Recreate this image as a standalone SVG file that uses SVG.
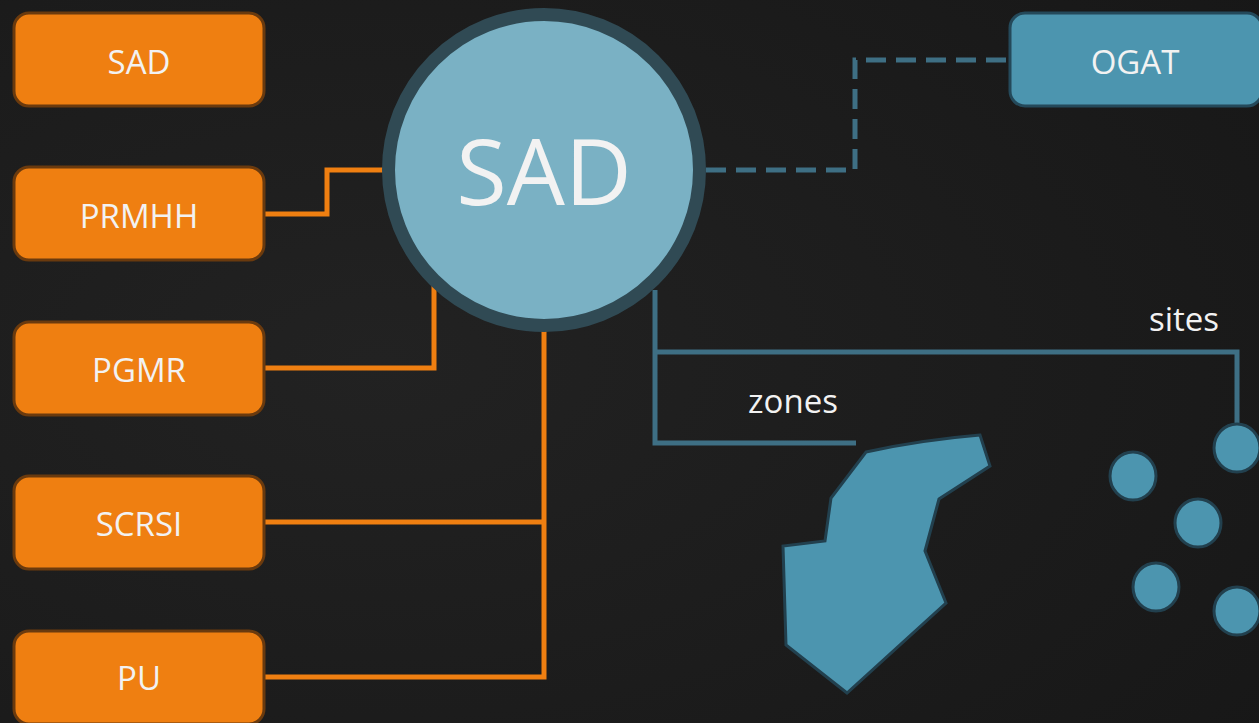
<svg xmlns="http://www.w3.org/2000/svg" width="1259" height="723" viewBox="0 0 1259 723">
  <style>
    .box-o { fill: #EF7F11; stroke: #6A3A0E; stroke-width: 3; }
    .box-b { fill: #4C95AF; stroke: #24495A; stroke-width: 3; }
    .lbl { font-family: "Open Sans", "Noto Sans", sans-serif; fill: #F2F2F2; text-anchor: middle; font-size: 33px; }
    .wire-o { fill: none; stroke: #EF7F11; stroke-width: 5; }
    .wire-b { fill: none; stroke: #3E6F84; stroke-width: 5; }
    .wire-d { fill: none; stroke: #3E6F84; stroke-width: 5; stroke-dasharray: 20 10; }
    .site { fill: #4C95AF; stroke: #22404E; stroke-width: 3; }
  </style>
  <defs>
    <radialGradient id="bg" cx="0.3" cy="0.5" r="0.9">
      <stop offset="0" stop-color="#222222"/>
      <stop offset="1" stop-color="#171717"/>
    </radialGradient>
  </defs>
  <rect x="0" y="0" width="1259" height="723" fill="url(#bg)"/>

  <g id="connectors">
    <path class="wire-o" d="M264,214 H327 V170 H390"/>
    <path class="wire-o" d="M264,368 H434 V285"/>
    <path class="wire-o" d="M264,522 H544"/>
    <path class="wire-o" d="M264,677 H544 V325"/>
    <path class="wire-d" d="M706,170 H855 V60 H1010"/>
    <path class="wire-b" d="M655,290 V443 H856"/>
    <path class="wire-b" d="M655,352 H1237 V425"/>
  </g>

  <g id="node-sad-box">
    <rect class="box-o" x="14" y="13" width="250" height="93" rx="15"/>
    <text class="lbl" x="139" y="74">SAD</text>
  </g>
  <g id="node-prmhh">
    <rect class="box-o" x="14" y="167" width="250" height="93" rx="15"/>
    <text class="lbl" x="139" y="228">PRMHH</text>
  </g>
  <g id="node-pgmr">
    <rect class="box-o" x="14" y="322" width="250" height="93" rx="15"/>
    <text class="lbl" x="139" y="382">PGMR</text>
  </g>
  <g id="node-scrsi">
    <rect class="box-o" x="14" y="476" width="250" height="93" rx="15"/>
    <text class="lbl" x="139" y="536">SCRSI</text>
  </g>
  <g id="node-pu">
    <rect class="box-o" x="14" y="631" width="250" height="93" rx="15"/>
    <text class="lbl" x="139" y="690">PU</text>
  </g>

  <g id="node-sad-center">
    <circle cx="544" cy="170" r="155.5" fill="#7AB1C4" stroke="#304A54" stroke-width="13"/>
    <text class="lbl" x="544" y="205" style="font-size:92px">SAD</text>
  </g>

  <g id="node-ogat">
    <rect class="box-b" x="1010" y="13" width="252" height="93" rx="15"/>
    <text class="lbl" x="1135" y="74">OGAT</text>
  </g>

  <g id="node-zones">
    <text class="lbl" x="793" y="413">zones</text>
    <path class="site" d="M866,452 Q920,440 980,435 L990,466 L939,499 L925,551 L946,603 L847,693 L786,645 L783,546 L825,541 L831,498 Z"/>
  </g>

  <g id="node-sites">
    <text class="lbl" x="1184" y="331">sites</text>
    <ellipse class="site" cx="1237" cy="448" rx="23" ry="24"/>
    <ellipse class="site" cx="1133" cy="476" rx="23" ry="24"/>
    <ellipse class="site" cx="1198" cy="523" rx="23" ry="24"/>
    <ellipse class="site" cx="1156" cy="587" rx="23" ry="24"/>
    <ellipse class="site" cx="1237" cy="611" rx="23" ry="24"/>
  </g>
</svg>
